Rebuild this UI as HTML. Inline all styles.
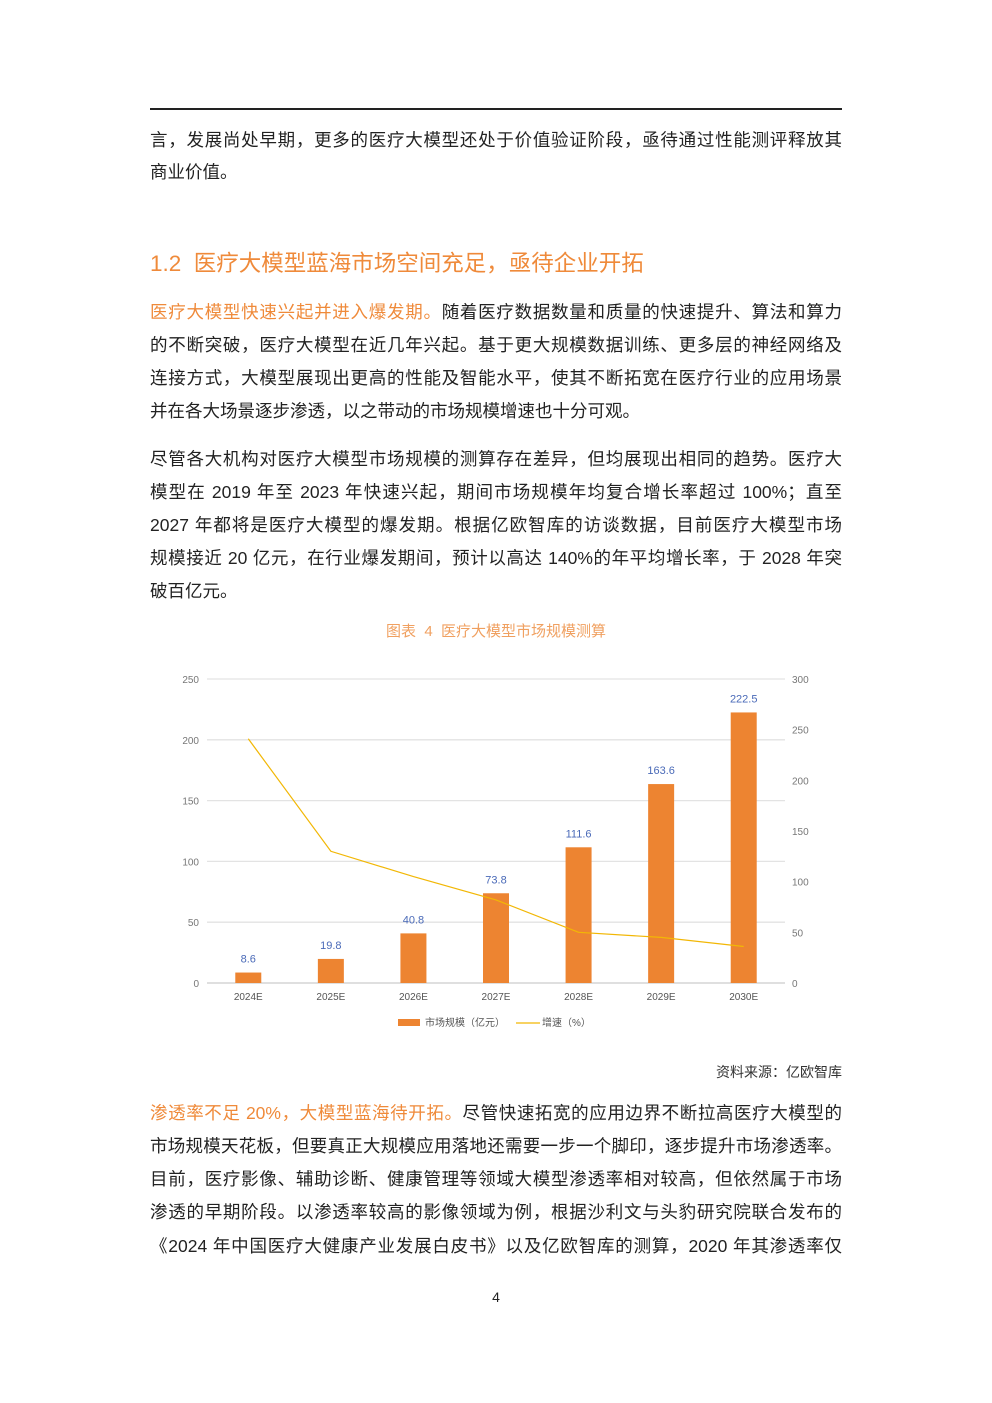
<!DOCTYPE html>
<html><head><meta charset="utf-8">
<style>
body{margin:0;background:#fff;}
#page{position:relative;width:992px;height:1403px;background:#fff;font-family:"Liberation Sans","Noto Sans CJK SC",sans-serif;color:#222;}
.ln{position:absolute;left:150px;width:692px;font-size:17.5px;line-height:22px;white-space:nowrap;}
.j{text-align:justify;text-align-last:justify;white-space:normal;}
.or{color:#ef8a3a;}
</style></head><body>
<div id="page">
<div style="position:absolute;left:150px;top:108px;width:692px;height:2px;background:#222"></div>
<div class="ln j" style="top:129px">言，发展尚处早期，更多的医疗大模型还处于价值验证阶段，亟待通过性能测评释放其</div>
<div class="ln" style="top:161px">商业价值。</div>
<div style="position:absolute;left:150px;top:250px;font-size:22.5px;line-height:28px;color:#ef8a3a;white-space:nowrap">1.2&nbsp; 医疗大模型蓝海市场空间充足，亟待企业开拓</div>
<div class="ln j" style="top:301px"><span class="or">医疗大模型快速兴起并进入爆发期。</span>随着医疗数据数量和质量的快速提升、算法和算力</div>
<div class="ln j" style="top:334px">的不断突破，医疗大模型在近几年兴起。基于更大规模数据训练、更多层的神经网络及</div>
<div class="ln j" style="top:367px">连接方式，大模型展现出更高的性能及智能水平，使其不断拓宽在医疗行业的应用场景</div>
<div class="ln" style="top:400px">并在各大场景逐步渗透，以之带动的市场规模增速也十分可观。</div>
<div class="ln j" style="top:448px">尽管各大机构对医疗大模型市场规模的测算存在差异，但均展现出相同的趋势。医疗大</div>
<div class="ln j" style="top:481px">模型在 2019 年至 2023 年快速兴起，期间市场规模年均复合增长率超过 100%；直至</div>
<div class="ln j" style="top:514px">2027 年都将是医疗大模型的爆发期。根据亿欧智库的访谈数据，目前医疗大模型市场</div>
<div class="ln j" style="top:547px">规模接近 20 亿元，在行业爆发期间，预计以高达 140%的年平均增长率，于 2028 年突</div>
<div class="ln" style="top:580px">破百亿元。</div>
<div style="position:absolute;left:0;width:992px;top:620px;text-align:center;font-size:15px;color:#f0a060">图表&nbsp; 4&nbsp; 医疗大模型市场规模测算</div>

<svg id="chart" style="position:absolute;left:0;top:0" width="992" height="1403"></svg>

<div style="position:absolute;right:150px;top:1062px;font-size:14px;color:#333">资料来源：亿欧智库</div>
<div class="ln j" style="top:1102px"><span class="or">渗透率不足 20%，大模型蓝海待开拓。</span>尽管快速拓宽的应用边界不断拉高医疗大模型的</div>
<div class="ln j" style="top:1135px">市场规模天花板，但要真正大规模应用落地还需要一步一个脚印，逐步提升市场渗透率。</div>
<div class="ln j" style="top:1168px">目前，医疗影像、辅助诊断、健康管理等领域大模型渗透率相对较高，但依然属于市场</div>
<div class="ln j" style="top:1201px">渗透的早期阶段。以渗透率较高的影像领域为例，根据沙利文与头豹研究院联合发布的</div>
<div class="ln j" style="top:1235px">《2024 年中国医疗大健康产业发展白皮书》以及亿欧智库的测算，2020 年其渗透率仅</div>
<div style="position:absolute;left:0;width:992px;top:1289px;text-align:center;font-size:14px">4</div>
</div>
<script>
const categories=["2024E","2025E","2026E","2027E","2028E","2029E","2030E"];
const marketSize=[8.6,19.8,40.8,73.8,111.6,163.6,222.5];
const growthRate=[241,130,105,82,50,45,36];
const leftTicks=[0,50,100,150,200,250];
const rightTicks=[0,50,100,150,200,250,300];
const NS="http://www.w3.org/2000/svg";
const svg=document.getElementById('chart');
const X0=207,X1=785,Y0=983,Y1=679;
const step=(X1-X0)/categories.length;
const xC=i=>X0+step*(i+0.5);
const yL=v=>Y0-(v/250)*(Y0-Y1);
const yR=v=>Y0-(v/300)*(Y0-Y1);
function mk(t,a,txt){const e=document.createElementNS(NS,t);for(const k in a)e.setAttribute(k,a[k]);if(txt!==undefined)e.textContent=txt;svg.appendChild(e);return e;}
leftTicks.forEach(v=>{
  const g=mk('line',{x1:X0,x2:X1,y1:yL(v),y2:yL(v),stroke:v===0?'#ccc':'#e3e3e3','stroke-width':1.3});
  
  
  const t=mk('text',{x:199,y:yL(v)+4,'text-anchor':'end','font-size':10,fill:'#777','font-family':'Liberation Sans'},v);
  
  
});
rightTicks.forEach(v=>{
  const t=mk('text',{x:792,y:yR(v)+4,'font-size':10,fill:'#777','font-family':'Liberation Sans'},v);
  
  
});
categories.forEach((c,i)=>{
  const b=mk('rect',{x:xC(i)-13,y:yL(marketSize[i]),width:26,height:Y0-yL(marketSize[i]),fill:'#ed8431'});
  
  
  const l=mk('text',{x:xC(i),y:yL(marketSize[i])-10,'text-anchor':'middle','font-size':11,fill:'#4a6ab8','font-family':'Liberation Sans'},marketSize[i]);
  
  
  const x=mk('text',{x:xC(i),y:1000,'text-anchor':'middle','font-size':10,fill:'#555','font-family':'Liberation Sans'},c);
  
  
});
const pl=mk('polyline',{points:growthRate.map((v,i)=>xC(i)+','+yR(v)).join(' '),fill:'none',stroke:'#f2b705','stroke-width':1.2});


const lg1=mk('rect',{x:398,y:1019,width:22,height:7,fill:'#ed8431'});


const lt1=mk('text',{x:425,y:1026,'font-size':10,fill:'#555','font-family':'Liberation Sans, Noto Sans CJK SC'},'市场规模（亿元）');


const lg2=mk('line',{x1:516,x2:540,y1:1023,y2:1023,stroke:'#f2b705','stroke-width':1.2});


const lt2=mk('text',{x:542,y:1026,'font-size':10,fill:'#555','font-family':'Liberation Sans, Noto Sans CJK SC'},'增速（%）');


</script>
</body></html>
